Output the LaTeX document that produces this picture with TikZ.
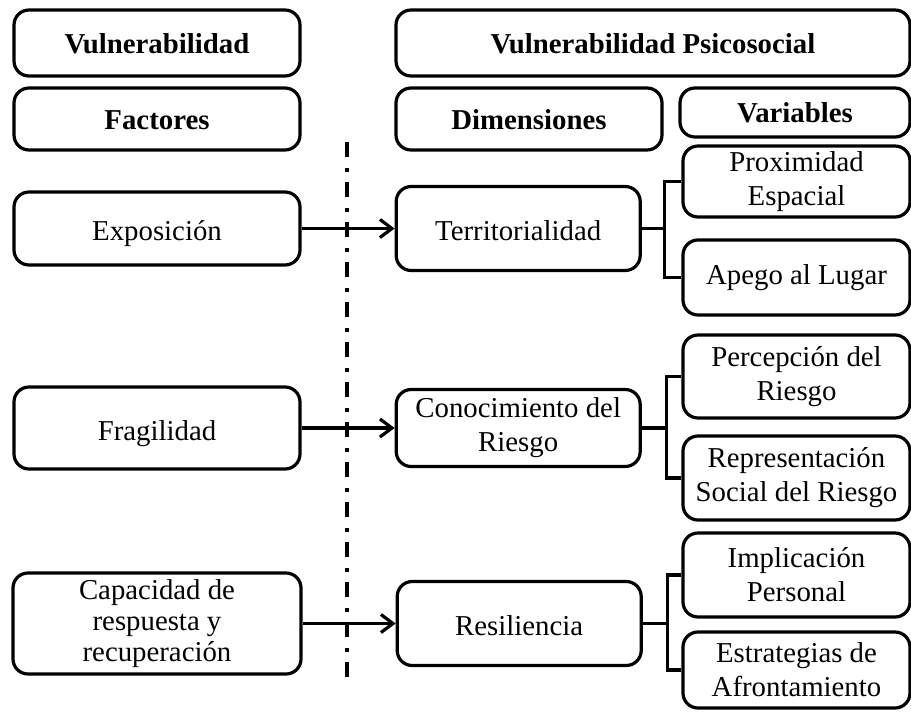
\documentclass[tikz,border=0pt]{standalone}
\usepackage{fontspec}
\setmainfont{Liberation Serif}
\usetikzlibrary{positioning,arrows.meta}

\begin{document}
\begin{tikzpicture}[x=0.5pt,y=-0.5pt,
        caja/.style={draw, rounded corners=7.5pt, line width=1.6pt, align=center, inner sep=0pt, font=\fontsize{14.4}{17}\selectfont},
        simple/.style={caja, text height=12pt, text depth=0pt},
        titulo/.style={caja, text height=10pt, text depth=0pt, font=\fontsize{14.4}{17}\selectfont\bfseries},
        flecha/.style={line width=1.6pt, -{Straight Barb[length=6pt,width=9pt,line width=1.6pt]}},
        rama/.style={line width=1.6pt},
        corte/.style={line width=1.6pt, dash pattern=on 7.5pt off 5.25pt on 2pt off 5.25pt}]
        \useasboundingbox (0,0) rectangle (911,713);
        % encabezados
        \node[titulo, minimum width=143pt, minimum height=33pt] (vul) at (157,43) {Vulnerabilidad};
        \node[titulo, minimum width=257pt, minimum height=33pt] (vps) at (653,43) {Vulnerabilidad Psicosocial};
        \node[titulo, minimum width=143pt, minimum height=31pt] (fac) at (157,119) {Factores};
        \node[titulo, minimum width=133pt, minimum height=31pt] (dim) at (529,119) {Dimensiones};
        \node[titulo, minimum width=115pt, minimum height=24.5pt] (var) at (795,112.5) {Variables};
        % factores
        \node[simple, minimum width=143pt, minimum height=36.5pt] (exp) at (157,228.5) {Exposición};
        \node[simple, minimum width=143pt, minimum height=41pt] (fra) at (157,428) {Fragilidad};
        \node[caja, minimum width=144pt, minimum height=50.5pt, font=\fontsize{14.4}{15.5}\selectfont] (cap) at (157,623.5) {Capacidad de\\respuesta y\\recuperación};
        % dimensiones
        \node[simple, minimum width=122pt, minimum height=42pt, right = 46.5pt of exp] (ter) {Territorialidad};
        \node[caja, minimum width=122pt, minimum height=38.5pt, right = 46.5pt of fra] (con) {Conocimiento del\\Riesgo};
        \node[simple, minimum width=122pt, minimum height=42pt, right = 46.5pt of cap] (res) {Resiliencia};
        % variables
        \node[caja, minimum width=113.5pt, minimum height=35.5pt] (pro) at (796.5,181.5) {Proximidad\\Espacial};
        \node[caja, minimum width=113.5pt, minimum height=37.5pt] (ape) at (796.5,277.5) {Apego al Lugar};
        \node[caja, minimum width=113.5pt, minimum height=41.5pt] (per) at (796.5,376.5) {Percepción del\\Riesgo};
        \node[caja, minimum width=113.5pt, minimum height=42pt] (rep) at (796.5,478) {Representación\\Social del Riesgo};
        \node[caja, minimum width=113.5pt, minimum height=42pt] (imp) at (796.5,575) {Implicación\\Personal};
        \node[caja, minimum width=113.5pt, minimum height=38pt] (est) at (796.5,670) {Estrategias de\\Afrontamiento};
        % separador
        \coordinate (sa) at (347,142);
        \coordinate (sb) at (347,684);
        \draw[corte] (sa) -- (sb);
        % flechas
        \draw[flecha] (exp) -- (ter);
        \draw[flecha] (fra) -- (con);
        \draw[flecha] (cap) -- (res);
        % ramas
        \draw[rama] (ter.east) -- ++(23,0) coordinate (t1) |- (pro.west) (t1) |- (ape.west);
        \draw[rama] (con.east) -- ++(25,0) coordinate (t2) |- (per.west) (t2) |- (rep.west);
        \draw[rama] (res.east) -- ++(25,0) coordinate (t3) |- (imp.west) (t3) |- (est.west);
    \end{tikzpicture}
\end{document}
